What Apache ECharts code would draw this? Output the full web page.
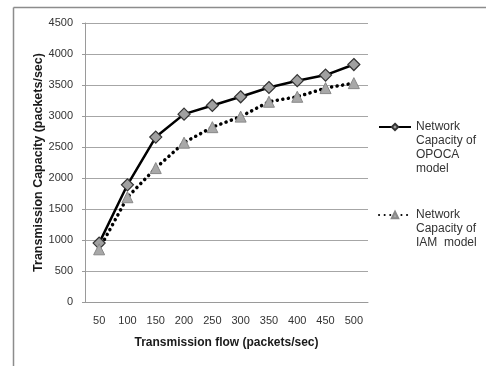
<!DOCTYPE html>
<html>
<head>
<meta charset="utf-8">
<script src="https://cdn.jsdelivr.net/npm/echarts@6/dist/echarts.min.js"></script>
<style>
html,body{margin:0;padding:0;background:#fff;}
#chart{width:487px;height:366px;}
</style>
</head>
<body>
<div id="chart"></div>
<script>
var categories = ['50','100','150','200','250','300','350','400','450','500'];
var opocaValues = [950, 1890, 2660, 3030, 3170, 3310, 3460, 3570, 3660, 3830];
var iamValues = [850, 1690, 2160, 2570, 2820, 2990, 3230, 3310, 3450, 3530];
var opocaName = '\n\n\nNetwork\nCapacity of\nOPOCA\nmodel';
var iamName = '\n\nNetwork\nCapacity of\nIAM  model';
var yTitle = 'Transmission Capacity (packets/sec)';
var xTitle = 'Transmission flow (packets/sec)';

var FONT = 'Liberation Sans';
var chart = echarts.init(document.getElementById('chart'), null, {renderer: 'canvas'});
chart.setOption({
  animation: false,
  backgroundColor: '#ffffff',
  textStyle: {fontFamily: FONT},
  graphic: [
    {type: 'line', shape: {x1: 13.5, y1: 7.5, x2: 486, y2: 7.5}, style: {stroke: '#8c8c8c', lineWidth: 1.5}},
    {type: 'line', shape: {x1: 13.5, y1: 7.5, x2: 13.5, y2: 366}, style: {stroke: '#8c8c8c', lineWidth: 1.5}}
  ],
  grid: {left: 85, right: 119, top: 23, bottom: 64},
  legend: [
    {
      data: [opocaName], orient: 'vertical', left: 378, top: 78, padding: 0,
      itemWidth: 32, itemHeight: 8, itemGap: 5,
      textStyle: {fontFamily: FONT, fontSize: 12, color: '#333', lineHeight: 14}
    },
    {
      data: [iamName], orient: 'vertical', left: 378, top: 180, padding: 0,
      itemWidth: 32, itemHeight: 8, itemGap: 5,
      textStyle: {fontFamily: FONT, fontSize: 12, color: '#333', lineHeight: 14}
    }
  ],
  xAxis: {
    type: 'category', data: categories, boundaryGap: true,
    name: xTitle, nameLocation: 'middle', nameGap: 35,
    nameTextStyle: {fontFamily: FONT, fontSize: 12, fontWeight: 'bold', color: '#1a1a1a'},
    axisLine: {lineStyle: {color: '#9a9a9a', width: 1}},
    axisTick: {show: false},
    axisLabel: {fontFamily: FONT, fontSize: 11, color: '#333', margin: 13}
  },
  yAxis: {
    type: 'value', min: 0, max: 4500, interval: 500,
    name: yTitle, nameLocation: 'middle', nameGap: 40, nameMoveOverlap: false,
    nameTextStyle: {fontFamily: FONT, fontSize: 12.5, fontWeight: 'bold', color: '#1a1a1a'},
    axisLine: {show: true, lineStyle: {color: '#9a9a9a', width: 1}},
    axisTick: {show: true, length: 3, lineStyle: {color: '#9a9a9a'}},
    axisLabel: {fontFamily: FONT, fontSize: 11, color: '#333', margin: 12, formatter: function (v) { return String(v); }},
    splitLine: {lineStyle: {color: '#a6a6a6', width: 1}}
  },
  series: [
    {
      name: opocaName, type: 'line', data: opocaValues,
      symbol: 'diamond', symbolSize: 12,
      lineStyle: {color: '#000', width: 2.5, type: 'solid'},
      itemStyle: {color: '#a0a0a0', borderColor: '#333', borderWidth: 1.2}
    },
    {
      name: iamName, type: 'line', data: iamValues,
      symbol: 'triangle', symbolSize: 11,
      lineStyle: {color: '#000', width: 3.5, type: [0.1, 5.5], cap: 'round'},
      itemStyle: {color: '#a8a8a8', borderColor: '#888', borderWidth: 1}
    }
  ]
});
</script>
</body>
</html>
